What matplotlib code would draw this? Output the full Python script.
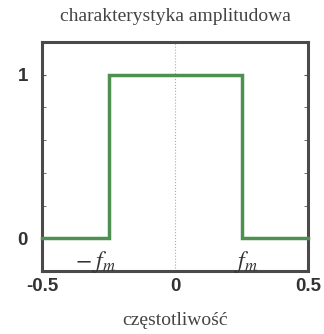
import numpy as np
import matplotlib
matplotlib.use('Agg')
import matplotlib.pyplot as plt

# amplitude response of ideal low-pass filter
freq = [-0.5, -0.25, -0.25, 0.25, 0.25, 0.5]
amp = [0, 0, 1, 1, 0, 0]
xticks = [-0.5, 0, 0.5]
xticklabels = ['-0.5', '0', '0.5']
yticks_lab = [0, 1]
yticks_minor = [0.2, 0.4, 0.6, 0.8]

plt.rcParams['mathtext.fontset'] = 'stix'

fig = plt.figure(figsize=(3.24, 3.34), dpi=100)
ax = fig.add_axes([42/324, 1-271/334, 266/324, 229/334])

ax.axvline(0, color='#aaaaaa', lw=0.8, ls=':')
ax.plot(freq, amp, color='#4e8f52', lw=2.5, solid_joinstyle='miter', clip_on=False, zorder=3)

ax.set_xlim(-0.5, 0.5)
ax.set_ylim(-0.2, 1.2)
ax.set_xticks(xticks)
ax.set_xticklabels(xticklabels, fontfamily='Liberation Sans', fontweight='bold', fontsize=13.5, color='#333333')
ax.set_yticks(yticks_lab)
ax.set_yticklabels(['0', '1'], fontfamily='Liberation Sans', fontweight='bold', fontsize=13.5, color='#333333')
ax.set_yticks(yticks_minor, minor=True)
ax.tick_params(axis='x', length=0, pad=5)
ax.tick_params(axis='y', which='both', direction='in', length=3, color='#555555', right=True, pad=10)
for s in ax.spines.values():
    s.set_color('#4a4a4a')
    s.set_linewidth(2.2)

ax.text(-0.3, -0.18, r'$-\;f_m$', ha='center', va='baseline', fontsize=17, color='#333333')
ax.text(0.265, -0.18, r'$f_m$', ha='center', va='baseline', fontsize=17, color='#333333')

ax.set_title('charakterystyka amplitudowa', fontfamily='Liberation Serif', fontsize=14, color='#444444', pad=15)
ax.set_xlabel('częstotliwość', fontfamily='Liberation Serif', fontsize=14, color='#444444', labelpad=12)

fig.savefig('out.png', dpi=100)
